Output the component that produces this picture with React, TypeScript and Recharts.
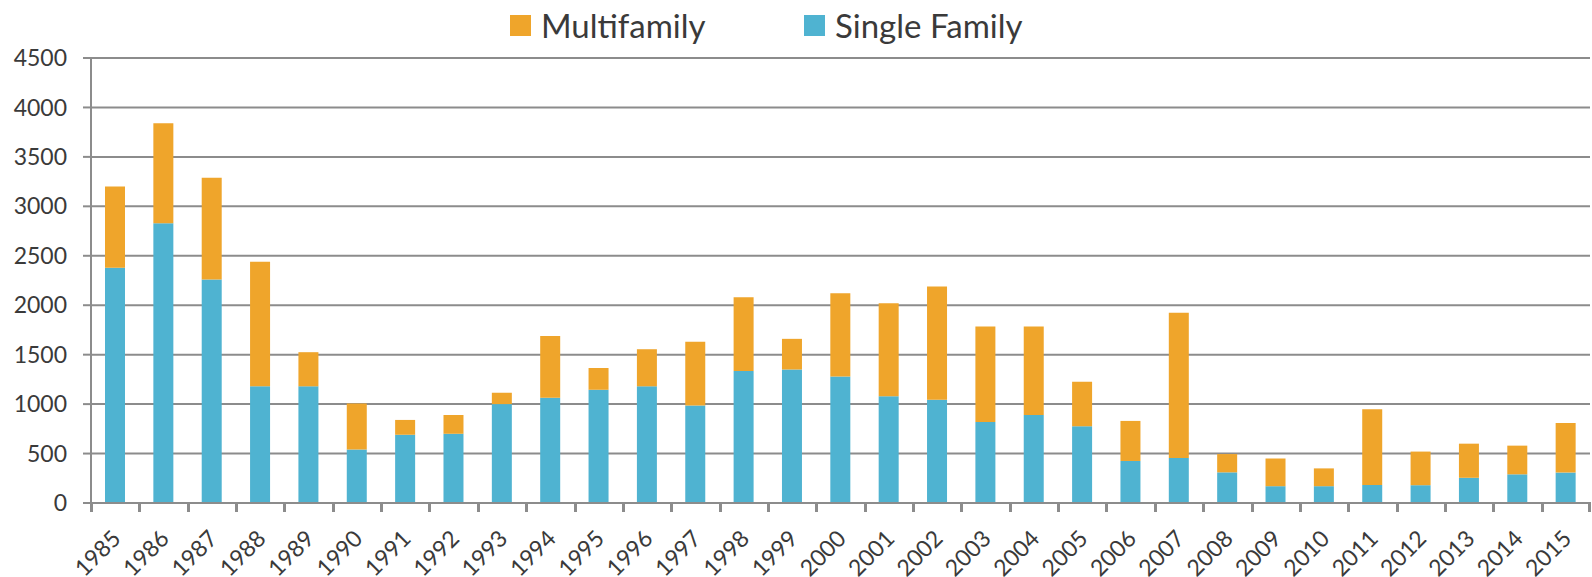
import React from 'react';
import { BarChart, Bar, XAxis, YAxis, CartesianGrid, Legend } from 'recharts';

// Housing units by year
const years = [
  '1985', '1986', '1987', '1988', '1989', '1990', '1991', '1992', '1993', '1994', '1995',
  '1996', '1997', '1998', '1999', '2000', '2001', '2002', '2003', '2004', '2005',
  '2006', '2007', '2008', '2009', '2010', '2011', '2012', '2013', '2014', '2015',
];
const singleFamily = [
  2380, 2830, 2260, 1180, 1180, 540, 690, 700, 1000, 1065, 1145,
  1180, 985, 1335, 1350, 1280, 1080, 1045, 820, 890, 775,
  425, 455, 310, 170, 170, 182, 180, 255, 290, 308,
];
const multifamily = [
  820, 1010, 1030, 1260, 345, 465, 150, 190, 115, 625, 220,
  375, 645, 745, 310, 840, 940, 1145, 965, 895, 450,
  405, 1470, 185, 280, 180, 765, 340, 345, 290, 500,
];
const yTicks = [0, 500, 1000, 1500, 2000, 2500, 3000, 3500, 4000, 4500];

const ORANGE = '#EFA52B';
const BLUE = '#4FB3D1';
const GRAY = '#8C8C8C';
const TEXT = '#3A3A3A';
const FONT = 'Lato, "Open Sans", sans-serif';

const data = years.map((year, i) => ({
  year,
  single: singleFamily[i],
  multi: multifamily[i],
}));

// year label plus a tick mark on the category boundary (left edge of each band)
const YearTick = (props: any) => {
  const { x, y, payload, index } = props;
  const half = typeof payload.offset === 'number' && payload.offset > 0 ? payload.offset : 24.2;
  const isLast = index === years.length - 1;
  const left = Math.round(x - half);
  const right = Math.round(x + half);
  return (
    <g>
      <rect x={left - 1} y={y - 1} width={3} height={10} fill={GRAY} shapeRendering="crispEdges" />
      {isLast && <rect x={right - 2} y={y - 1} width={3} height={10} fill={GRAY} shapeRendering="crispEdges" />}
      <g transform={`translate(${x + 7},${y + 37})`}>
        <text x={0} y={0} textAnchor="end" transform="rotate(-45)" fill={TEXT} fontSize={23} fontFamily={FONT}>
          {payload.value}
        </text>
      </g>
    </g>
  );
};

const LegendBox = () => {
  const items = [
    { label: 'Multifamily', color: ORANGE, left: 510 },
    { label: 'Single Family', color: BLUE, left: 804 },
  ];
  return (
    <div style={{ position: 'relative', height: 50, width: 1592 }}>
      {items.map((it) => (
        <div
          key={it.label}
          style={{
            position: 'absolute',
            left: it.left,
            top: 2,
            height: 46,
            display: 'flex',
            alignItems: 'center',
            fontFamily: FONT,
            fontSize: 33,
            color: TEXT,
          }}
        >
          <span style={{ width: 21, height: 21, background: it.color, display: 'inline-block', marginRight: 10 }} />
          {it.label}
        </div>
      ))}
    </div>
  );
};

const App = () => {
  return (
    <div style={{ position: 'absolute', left: 0, top: 0, width: 1592, height: 577, background: '#fff' }}>
      <BarChart width={1592} height={577} data={data} margin={{ top: 8, right: 2, left: 0, bottom: 0 }}>
        <Legend verticalAlign="top" height={50} content={() => <LegendBox />} wrapperStyle={{ left: 0, top: 0, width: 1592 }} />
        <CartesianGrid vertical={false} stroke={GRAY} strokeWidth={2} />
        <XAxis
          dataKey="year"
          height={74}
          stroke={GRAY}
          strokeWidth={2}
          tickLine={false}
          tickSize={0}
          tickMargin={0}
          interval={0}
          tick={(p: any) => <YearTick {...p} />}
        />
        <YAxis
          width={91}
          domain={[0, 4500]}
          ticks={yTicks}
          stroke={GRAY}
          strokeWidth={2}
          tickSize={8}
          tickMargin={16}
          tick={{ fill: TEXT, fontSize: 23, fontFamily: FONT }}
        />
        <Bar dataKey="single" name="Single Family" stackId="a" fill={BLUE} barSize={20} isAnimationActive={false} />
        <Bar dataKey="multi" name="Multifamily" stackId="a" fill={ORANGE} barSize={20} isAnimationActive={false} />
      </BarChart>
    </div>
  );
};

export default App;
